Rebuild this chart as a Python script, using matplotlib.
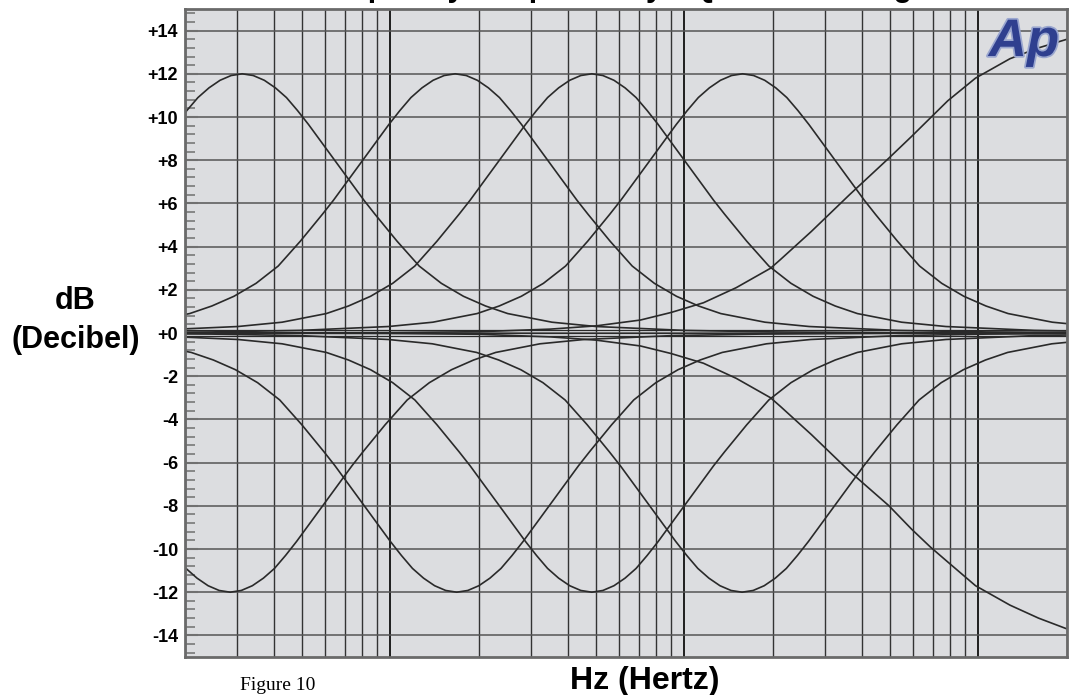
import numpy as np
import matplotlib
matplotlib.use("Agg")
import matplotlib.pyplot as plt
from matplotlib.ticker import FixedLocator, MultipleLocator, NullFormatter
import matplotlib.patheffects as pe

# bell shape: dB of a +12 dB band vs. distance from centre (octaves)
bell_octaves = [0, 0.125, 0.25, 0.375, 0.5, 0.625, 0.75, 0.875, 1.0, 1.125, 1.25, 1.375, 1.5,
                1.75, 2.0, 2.25, 2.5, 2.75, 3.0, 3.5, 4.0, 5.0, 6.0, 8.0, 10.0]
bell_db = [12.0, 11.92, 11.7, 11.35, 10.9, 10.3, 9.65, 8.95, 8.25, 7.55, 6.85, 6.15, 5.5,
           4.25, 3.1, 2.3, 1.7, 1.25, 0.9, 0.5, 0.3, 0.12, 0.05, 0.0, 0.0]

# band centre frequencies (Hz)
boost_centers = [31.3, 166, 484, 1576]
cut_centers = [28.5, 168, 484, 1570]

# high shelf boost / cut
shelf_freq = [20, 100, 200, 350, 500, 708, 900, 1160, 1500, 1963, 2120, 2700, 3640,
              4960, 5920, 6850, 7860, 9770, 12800, 16000, 20000]
shelf_up_db = [0.0, 0.02, 0.06, 0.18, 0.33, 0.6, 0.95, 1.4, 2.1, 3.0, 3.4, 4.7, 6.4,
               8.1, 9.1, 9.95, 10.75, 11.8, 12.7, 13.2, 13.6]
shelf_down_db = [0.0, -0.02, -0.06, -0.18, -0.33, -0.6, -0.95, -1.4, -2.1, -3.0, -3.4, -4.7, -6.4,
                 -8.0, -9.08, -9.9, -10.6, -11.7, -12.6, -13.2, -13.7]

# flat settings traces
flat_levels = [0.15, 0.0, -0.15]

y_ticks = list(range(-14, 15, 2))
y_labels = [("+%d" % v) if v >= 0 else str(v) for v in y_ticks]

fig = plt.figure(figsize=(10.73, 6.95), dpi=100)
ax = fig.add_axes([185 / 1073, 1 - 657 / 695, 882 / 1073, 648 / 695])
ax.set_facecolor("#dcdde0")

ax.set_xscale("log")
ax.set_xlim(20, 20000)
ax.set_ylim(-15, 15)

line_kw = dict(color="#2a2a2a", lw=1.2, solid_capstyle="butt", solid_joinstyle="round")
oct_full = np.array([-o for o in bell_octaves[::-1]] + bell_octaves[1:])
bell_full = np.array(bell_db[::-1] + bell_db[1:])
for fc in boost_centers:
    ax.plot(fc * 2.0 ** oct_full, bell_full, **line_kw)
for fc in cut_centers:
    ax.plot(fc * 2.0 ** oct_full, -bell_full, **line_kw)
ax.plot(shelf_freq, shelf_up_db, **line_kw)
ax.plot(shelf_freq, shelf_down_db, **line_kw)
for lv in flat_levels:
    ax.plot([20, 20000], [lv, lv], color="#2a2a2a", lw=0.9)

# grid
ax.xaxis.set_major_locator(FixedLocator([100, 1000, 10000]))
minors = [m * d for d in (10, 100, 1000, 10000) for m in range(2, 10) if 20 <= m * d <= 20000]
ax.xaxis.set_minor_locator(FixedLocator(minors))
ax.xaxis.set_major_formatter(NullFormatter())
ax.xaxis.set_minor_formatter(NullFormatter())
ax.tick_params(axis="x", which="both", length=0)
ax.grid(True, axis="x", which="major", color="#1e1e1e", lw=1.4)
ax.grid(True, axis="x", which="minor", color="#333333", lw=1.0)

ax.set_yticks(y_ticks)
ax.set_yticklabels(y_labels, fontfamily="Liberation Sans", fontweight="bold", fontsize=13)
ax.yaxis.set_minor_locator(MultipleLocator(0.4))
ax.tick_params(axis="y", which="major", direction="in", length=9, width=1.5, color="#707070", pad=5)
ax.tick_params(axis="y", which="minor", direction="in", length=7, width=1.3, color="#808080")
ax.grid(True, axis="y", which="major", color="#555555", lw=1.1)
ax.set_axisbelow(True)

for s in ax.spines.values():
    s.set_color("#6a6a6a")
    s.set_linewidth(2)

# labels
fig.text(75 / 1073, 1 - 301 / 695, "dB", ha="center", va="center",
         fontfamily="Liberation Sans", fontweight="bold", fontsize=22)
fig.text(76 / 1073, 1 - 340 / 695, "(Decibel)", ha="center", va="center",
         fontfamily="Liberation Sans", fontweight="bold", fontsize=22)
fig.text(645 / 1073, 1 - 681 / 695, "Hz (Hertz)", ha="center", va="center",
         fontfamily="Liberation Sans", fontweight="bold", fontsize=23)
fig.text(240 / 1073, 1 - 690 / 695, "Figure 10", ha="left", va="baseline",
         fontfamily="Liberation Serif", fontsize=14)
# title sits mostly above the top edge, as in the cropped original
fig.text(620 / 1073, 1.006, "Frequency Response by EQ Band Settings", ha="center", va="baseline",
         fontfamily="Liberation Sans", fontweight="bold", fontsize=22)

# Ap logo
fig.text(1024 / 1073, 1 - 42 / 695, "Ap", ha="center", va="center",
         fontfamily="Liberation Sans", fontweight="bold", fontstyle="italic",
         fontsize=38, color="#2f3f8f",
         path_effects=[pe.withStroke(linewidth=2.5, foreground="#9aa6cf")])

fig.savefig("out.png", dpi=100)
